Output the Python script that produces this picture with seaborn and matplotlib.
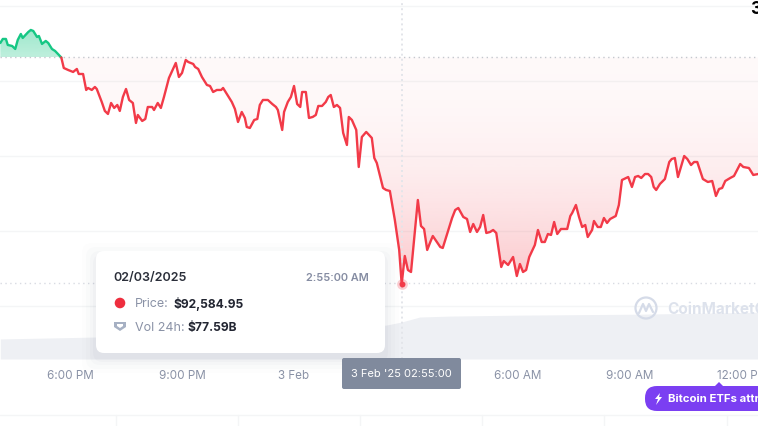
#!/usr/bin/env python
# -*- coding: utf-8 -*-
import numpy as np
import pandas as pd
import matplotlib
matplotlib.use("Agg")
import matplotlib.pyplot as plt
from matplotlib.patches import FancyBboxPatch, Circle, Polygon
import seaborn as sns

# minutes after 6:00 PM on 2 Feb, price in USD
minutes = [-112, -108, -103, -100, -93, -88, -84, -79, -76, -67, -63, -59, -53, -50, -45, -39, -35, -29, -24, -14,
           -10, -3, 5, 11, 14, 21, 26, 29, 35, 40, 43, 51, 56, 61, 66, 71, 76, 80, 85, 90, 95, 101, 106, 109, 116,
           121, 125, 132, 135, 141, 146, 151, 159, 170, 175, 180, 186, 190, 198, 201, 206, 212, 220, 225, 230, 236,
           243, 246, 252, 260, 265, 270, 276, 281, 284, 289, 296, 301, 305, 310, 318, 325, 331, 334, 341, 344, 350,
           355, 360, 365, 370, 373, 379, 384, 390, 395, 399, 405, 411, 415, 419, 424, 429, 434, 439, 445, 448, 453,
           460, 464, 469, 476, 482, 485, 489, 493, 503, 508, 514, 522, 529, 533, 538, 543, 548, 559, 564, 569, 574,
           579, 583, 595, 599, 604, 614, 619, 624, 632, 638, 643, 648, 654, 659, 664, 669, 675, 680, 685, 693, 697,
           704, 712, 718, 723, 728, 733, 738, 747, 752, 758, 763, 768, 773, 778, 783, 789, 799, 804, 807, 813, 818,
           823, 828, 832, 839, 842, 848, 853, 858, 863, 868, 877, 882, 887, 897, 903, 908, 913, 918, 924, 929, 934,
           938, 942, 948, 956, 963, 967, 972, 977, 987, 992, 998, 1003, 1008, 1017, 1025, 1032, 1038, 1043, 1048,
           1053, 1061, 1067, 1077, 1082, 1091, 1098, 1106]
price = [99014, 99121, 99121, 98961, 98934, 98854, 99094, 99254, 99148, 99308, 99361, 99334, 99174, 99201, 98988,
         99068, 99014, 98854, 98801, 98627, 98347, 98294, 98241, 98321, 98187, 98187, 97761, 97814, 97761, 97841,
         97787, 97441, 97201, 97121, 97414, 97281, 97361, 97201, 97574, 97787, 97494, 97414, 96881, 97094, 96934,
         96987, 97307, 97307, 97227, 97414, 97281, 97574, 98081, 98481, 98107, 98214, 98561, 98507, 98454, 98374,
         98321, 98107, 97894, 97867, 97707, 97761, 97761, 97814, 97654, 97441, 97254, 96907, 97174, 97014, 96774,
         96747, 96961, 96987, 97361, 97494, 97494, 97387, 97307, 97227, 96694, 97174, 97441, 97574, 97867, 97387,
         97307, 97707, 97707, 97014, 97041, 97094, 97334, 97334, 97441, 97574, 97627, 97307, 97361, 97281, 96614,
         96294, 97041, 96961, 96694, 95707, 96507, 96641, 96534, 96481, 95947, 95814, 95147, 95094, 95067, 94294,
         93494, 92584.95, 93334, 92960, 92907, 94827, 94134, 94054, 93494, 93707, 93867, 93574, 93547, 93814, 94347,
         94560, 94614, 94374, 94320, 93974, 94187, 93974, 94107, 94427, 93947, 93974, 94027, 93947, 93040, 93200,
         93094, 93307, 92800, 93120, 92907, 92960, 93307, 93627, 94027, 93707, 93707, 93920, 93894, 94240, 93920,
         94054, 94054, 94400, 94480, 94694, 94374, 94107, 94160, 93840, 94027, 94267, 94107, 94107, 94347, 94214,
         94320, 94400, 94694, 95360, 95440, 95174, 95440, 95467, 95414, 95520, 95520, 95440, 95174, 95094, 95254,
         95387, 95840, 95920, 95947, 95440, 96000, 95920, 95760, 95840, 95840, 95387, 95307, 95334, 94934, 95120,
         95147, 95334, 95414, 95467, 95787, 95707, 95680, 95494, 95520]

BASE_PRICE = 98627
grid_prices = [92000, 94000, 96000, 98000, 100000]

# volume in billions of USD
vol_minutes = [-112, 40, 200, 350, 508, 533, 562, 611, 723, 916, 1106]
vol_24h = [42, 46, 52, 62, 71, 77.59, 88, 90, 92, 94, 98]

tick_minutes = [0, 180, 360, 720, 900, 1080]
tick_labels = ["6:00 PM", "9:00 PM", "3 Feb", "6:00 AM", "9:00 AM", "12:00 PM"]
hover_minute = 533
hover_price = 92584.95

sns.set_theme(style="white")
plt.rcParams["font.family"] = ["Inter", "DejaVu Sans"]

GREEN = "#16c784"
RED = "#f23a48"
GREY_TEXT = "#8a92a6"

df = pd.DataFrame({"minutes": minutes, "price": price})
up = df[df["minutes"] <= -14]
down = df[df["minutes"] >= -14]
vol = pd.DataFrame({"minutes": vol_minutes, "vol": vol_24h})

fig = plt.figure(figsize=(7.58, 4.26), dpi=100)
ax_vol = fig.add_axes([0, 0, 1, 1])
ax = ax_vol.twinx()
XLIM = (-112.5, 1105.6)
YLIM = (88800, 100160)

# volume band sits behind the price
ax_vol.fill_between(vol["minutes"], 0, vol["vol"], color="#eef0f4", lw=0)
ax_vol.set_xlim(*XLIM)
ax_vol.set_ylim(-140.5, 752.8)
ax_vol.set_yticks([])
ax_vol.set_xticks(tick_minutes)
ax_vol.set_xticklabels(tick_labels)
ax_vol.spines["bottom"].set_position(("data", 0))
ax_vol.tick_params(axis="x", length=0, pad=7.8, labelcolor=GREY_TEXT, labelsize=8.4)
for s in ax_vol.spines.values():
    s.set_visible(False)


def gradient_fill(data, color, a_top, a_bottom, top, bottom, power=1.0):
    # vertical alpha gradient clipped to the area between the line and the base price
    poly = ax.fill_between(data["minutes"], data["price"], BASE_PRICE, color="none", lw=0)
    rgba = np.zeros((256, 1, 4))
    rgba[:, :, :3] = matplotlib.colors.to_rgb(color)
    rgba[:, 0, 3] = a_top + (a_bottom - a_top) * np.linspace(0, 1, 256) ** power
    im = ax.imshow(rgba, extent=(XLIM[0], XLIM[1], bottom, top), aspect="auto", zorder=1, origin="upper")
    im.set_clip_path(poly.get_paths()[0], transform=ax.transData)


gradient_fill(up, GREEN, 0.42, 0.28, 99400, BASE_PRICE)
gradient_fill(down, RED, 0.03, 0.27, BASE_PRICE, 92800, power=2.0)

sns.lineplot(data=up, x="minutes", y="price", color=GREEN, lw=1.7, ax=ax, zorder=3, legend=False)
sns.lineplot(data=down, x="minutes", y="price", color=RED, lw=1.7, ax=ax, zorder=3, legend=False)

ax.axhline(BASE_PRICE, color="#c4c8ce", lw=1, ls=(0, (1, 2.5)), zorder=2)
ax.axhline(hover_price + 30, color="#d8dbe2", lw=1, ls=(0, (1, 2.5)), zorder=2)
ax.plot([hover_minute, hover_minute], [90586, 100160], color="#e3e5ea", lw=1.4, ls=(0, (1, 1.6)), zorder=2)
sns.scatterplot(x=[hover_minute], y=[hover_price], s=60, color=RED, alpha=0.25, linewidth=0, ax=ax, zorder=4)
sns.scatterplot(x=[hover_minute], y=[hover_price], s=18, color=RED, linewidth=0, ax=ax, zorder=5)

ax.set_xlim(*XLIM)
ax.set_ylim(*YLIM)
ax.set_yticks(grid_prices)
ax.set_yticklabels([])
ax.grid(axis="y", color="#f4f5f6", lw=1)
ax.grid(axis="x", visible=False)
ax.set_axisbelow(True)
ax.tick_params(axis="both", length=0)
ax.set_xlabel("")
ax.set_ylabel("")
for s in ax.spines.values():
    s.set_visible(False)

# overlay in picture pixels for the tooltip and page furniture
ov = fig.add_axes([0, 0, 1, 1], facecolor="none")
ov.set_xlim(0, 758)
ov.set_ylim(426, 0)
ov.axis("off")

ov.plot([0, 758], [415, 415], color="#f4f5f6", lw=1)
for x in [116, 238, 360, 482, 604, 727]:
    ov.plot([x, x], [415, 426], color="#f4f5f6", lw=1)

# tooltip with a soft shadow
for grow, a in [(14, 0.012), (10, 0.018), (6, 0.025), (3, 0.03)]:
    ov.add_patch(FancyBboxPatch((96 - grow, 251 - grow + 6), 289 + 2 * grow, 102 + 2 * grow,
                                boxstyle="round,pad=0,rounding_size=10", fc="#58667e", ec="none", alpha=a))
ov.add_patch(FancyBboxPatch((96, 251), 289, 102, boxstyle="round,pad=0,rounding_size=8", fc="white", ec="none"))
ov.text(113, 278, "02/03/2025", fontsize=9, fontweight="semibold", color="#2b2f3a", va="center")
ov.text(369, 278, "2:55:00 AM", fontsize=7.9, fontweight="semibold", color="#858ca2", va="center", ha="right")
ov.add_patch(Circle((120, 303), 5.3, fc="#ee2e3e", ec="none"))
ov.text(135, 304, "Price:", fontsize=9, color="#8a92a6", va="center")
ov.text(173, 304, "$92,584.95", fontsize=8.7, fontweight="bold", color="#222531", va="center")
ov.add_patch(Polygon([(114, 322), (126, 322), (126, 327), (120, 331), (114, 327)], fc="#a6b0c3", ec="none"))
ov.add_patch(Polygon([(117, 324), (123, 324), (123, 326), (120, 328), (117, 326)], fc="white", ec="none"))
ov.text(135, 328, "Vol 24h:", fontsize=9, color="#8a92a6", va="center")
ov.text(187, 328, "$77.59B", fontsize=8.7, fontweight="bold", color="#222531", va="center")

# crosshair label
ov.add_patch(FancyBboxPatch((342, 358), 119, 31, boxstyle="round,pad=0,rounding_size=2", fc="#808a9d", ec="none"))
ov.text(401.5, 374, "3 Feb '25 02:55:00", fontsize=8, color="white", ha="center", va="center")

# watermark
ov.add_patch(Circle((646, 308), 10.5, fc="none", ec="#d5dbe8", lw=1.6))
ov.plot([639, 643, 646, 649, 653], [313, 304, 311, 304, 312], color="#d5dbe8", lw=1.6)
ov.text(667, 309, "CoinMarketCap", fontsize=11, fontweight="bold", color="#dde2ec", va="center", clip_on=True)

# news pill
ov.add_patch(FancyBboxPatch((645, 386), 130, 25, boxstyle="round,pad=0,rounding_size=12", fc="#7b3ff2", ec="none",
                            clip_on=True))
ov.add_patch(Polygon([(714, 387), (719, 382), (724, 387)], fc="#7b3ff2", ec="none"))
ov.add_patch(Polygon([(660, 393), (655, 399), (658, 399), (656, 405), (662, 397), (659, 397)], fc="white", ec="none"))
ov.text(668, 398.5, "Bitcoin ETFs attr", fontsize=8.2, fontweight="bold", color="white", va="center", clip_on=True)

ov.text(750.5, 9, "3", fontsize=12.5, fontweight="bold", color="black", va="center", clip_on=True)

fig.savefig("out.png", dpi=100)
